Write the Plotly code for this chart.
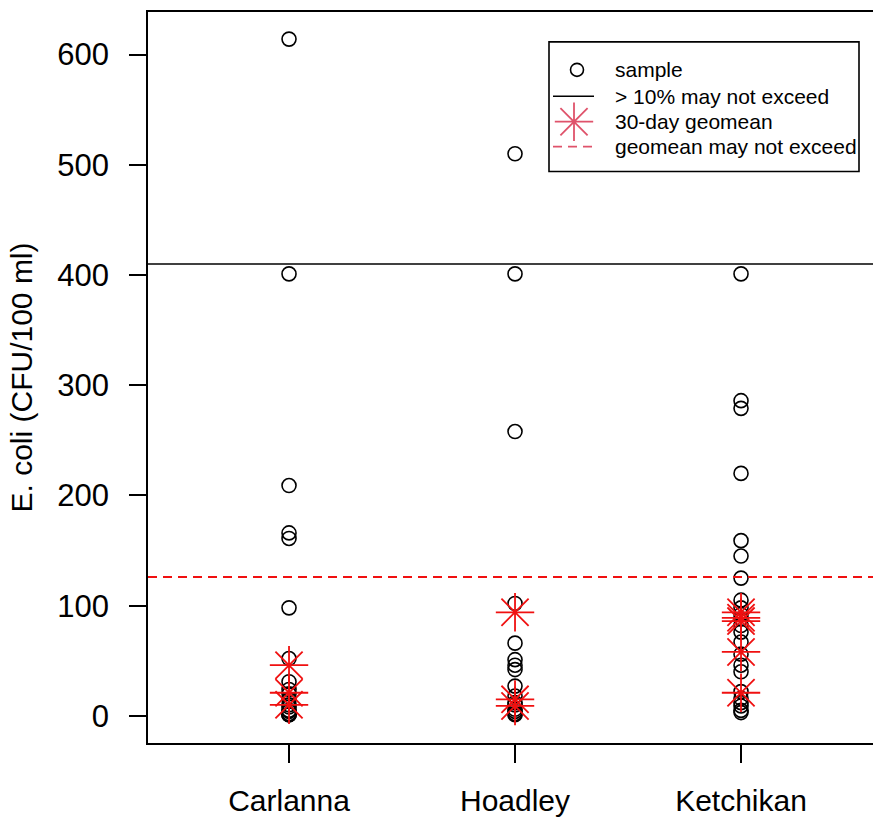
import plotly.graph_objects as go

# ---- data -------------------------------------------------------------
sites = ["Carlanna", "Hoadley", "Ketchikan"]

carlanna_samples = [614, 401, 209, 166, 161, 98, 52, 31, 24, 20, 15, 10, 8, 5, 4, 2, 1, 1, 1]
hoadley_samples = [510, 401, 258, 102, 66, 51, 46, 42, 27, 18, 12, 10, 6, 4, 2, 1]
ketchikan_samples = [401, 286, 279, 220, 159, 145, 125, 105, 98, 92, 88, 82, 76, 67,
                     56, 46, 40, 22, 16, 12, 9, 5, 3]

carlanna_geomean = [46, 21, 10]
hoadley_geomean = [94, 15, 9]
ketchikan_geomean = [94, 89, 86, 58, 21]

stv_limit = 410       # > 10% of samples may not exceed
geomean_limit = 126   # 30-day geometric mean may not exceed

y_ticks = [0, 100, 200, 300, 400, 500, 600]

legend_labels = ["sample", "> 10% may not exceed", "30-day geomean", "geomean may not exceed"]

# ---- figure geometry --------------------------------------------------
W, H = 873, 817
ML, MR, MT, MB = 148, 0, 12, 72
PW, PH = W - ML - MR, H - MT - MB

FONT = "Liberation Sans, Arial, sans-serif"
RED = "#F01010"
PINK = "#DF536B"


def px_x(x):
    return (x - ML) / PW


def px_y(y):
    return (H - MB - y) / PH


fig = go.Figure()

samples = [carlanna_samples, hoadley_samples, ketchikan_samples]
geomeans = [carlanna_geomean, hoadley_geomean, ketchikan_geomean]

for site, vals in zip(sites, samples):
    fig.add_trace(go.Scatter(
        x=[site] * len(vals), y=vals, mode="markers", showlegend=False,
        marker=dict(symbol="circle-open", size=14, color="black", line=dict(width=1.6)),
        hoverinfo="x+y"))

for site, vals in zip(sites, geomeans):
    fig.add_trace(go.Scatter(
        x=[site] * len(vals), y=vals, mode="markers", showlegend=False,
        marker=dict(symbol="asterisk-open", size=32, color=RED,
                    line=dict(color=RED, width=1.8)),
        hoverinfo="x+y"))

# limit lines
fig.add_shape(type="line", xref="paper", x0=0, x1=1, yref="y", y0=stv_limit, y1=stv_limit,
              line=dict(color="black", width=1.6))
fig.add_shape(type="line", xref="paper", x0=0, x1=1, yref="y", y0=geomean_limit, y1=geomean_limit,
              line=dict(color=RED, width=1.8, dash="9px,6px"))

# ---- legend box -------------------------------------------------------
box_l, box_r, box_t, box_b = 549, 859, 42, 172
row_y = [70, 96.5, 122, 147]
sym_x, seg_l, seg_r, text_x = 574, 553, 594, 613

fig.add_shape(type="rect", xref="paper", yref="paper",
              x0=px_x(box_l), x1=px_x(box_r), y0=px_y(box_b), y1=px_y(box_t),
              line=dict(color="black", width=1.6), fillcolor="white", layer="below")

fig.add_trace(go.Scatter(
    x=[px_x(sym_x + 3)], y=[px_y(row_y[0])], xaxis="x2", yaxis="y2", mode="markers",
    showlegend=False, hoverinfo="skip",
    marker=dict(symbol="circle-open", size=13, color="black", line=dict(width=1.6))))
fig.add_trace(go.Scatter(
    x=[px_x(sym_x)], y=[px_y(row_y[2])], xaxis="x2", yaxis="y2", mode="markers",
    showlegend=False, hoverinfo="skip",
    marker=dict(symbol="asterisk-open", size=32, color=PINK, line=dict(color=PINK, width=1.8))))

fig.add_shape(type="line", xref="paper", yref="paper",
              x0=px_x(seg_l), x1=px_x(seg_r), y0=px_y(row_y[1]), y1=px_y(row_y[1]),
              line=dict(color="black", width=1.6), layer="above")
fig.add_shape(type="line", xref="paper", yref="paper",
              x0=px_x(seg_l), x1=px_x(seg_r), y0=px_y(row_y[3]), y1=px_y(row_y[3]),
              line=dict(color=PINK, width=1.8, dash="9px,6px"), layer="above")

for label, ry in zip(legend_labels, row_y):
    fig.add_annotation(xref="paper", yref="paper", x=px_x(text_x), y=px_y(ry),
                       text=label, showarrow=False, xanchor="left", yanchor="middle",
                       font=dict(family=FONT, size=21, color="black"))

# ---- layout -----------------------------------------------------------
fig.update_layout(
    width=W, height=H,
    margin=dict(l=ML, r=MR, t=MT, b=MB, pad=0),
    paper_bgcolor="white", plot_bgcolor="white",
    font=dict(family=FONT, color="black"),
    showlegend=False,
    xaxis=dict(
        type="category", categoryorder="array", categoryarray=sites,
        range=[-0.624, 2.584], showgrid=False, zeroline=False,
        showline=True, mirror=True, linecolor="black", linewidth=1.6,
        ticks="outside", ticklen=18, tickwidth=1.6, tickcolor="black",
        tickfont=dict(family=FONT, size=30), ticklabelstandoff=12,
    ),
    yaxis=dict(
        range=[-24.6, 638.6], tickvals=y_ticks, showgrid=False, zeroline=False,
        showline=True, mirror=False, linecolor="black", linewidth=1.6,
        ticks="outside", ticklen=17, tickwidth=1.6, tickcolor="black",
        tickfont=dict(family=FONT, size=31), ticklabelstandoff=14,
        title=dict(text="E. coli (CFU/100 ml)", font=dict(family=FONT, size=30), standoff=16),
    ),
    xaxis2=dict(overlaying="x", range=[0, 1], visible=False),
    yaxis2=dict(overlaying="y", range=[0, 1], visible=False),
)

fig.write_html("out.html")
